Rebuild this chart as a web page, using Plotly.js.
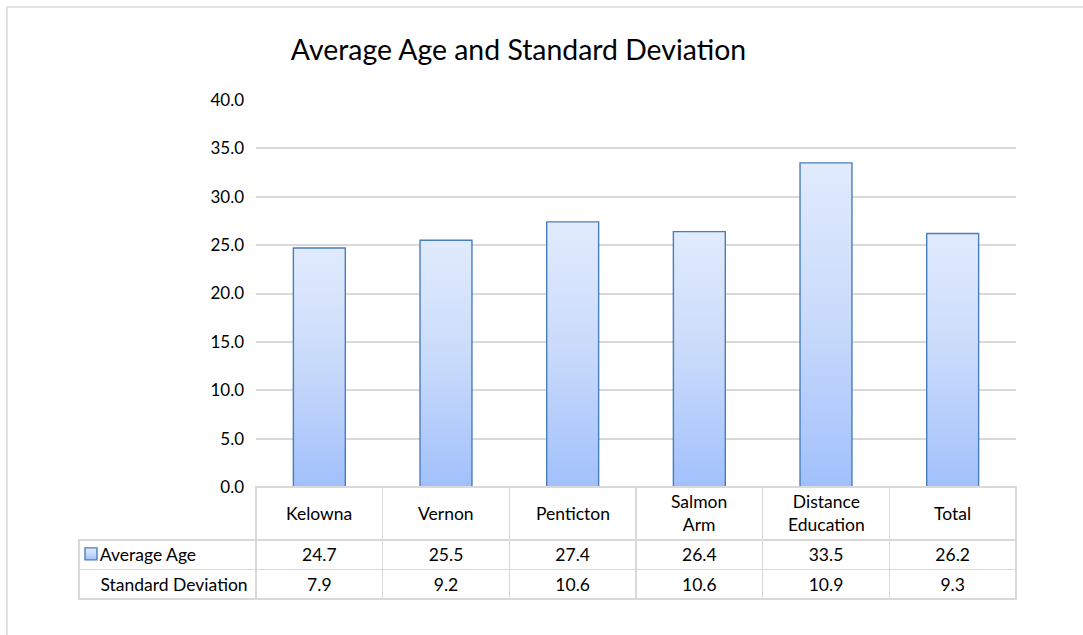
<!DOCTYPE html>
<html>
<head>
<meta charset="utf-8">
<script src="https://cdn.plot.ly/plotly-3.0.1.min.js"></script>
<style>html,body{margin:0;padding:0;background:#fff;}#chart{width:1083px;height:635px;}</style>
</head>
<body>
<div id="chart"></div>
<script>
const categories = ["Kelowna", "Vernon", "Penticton", "Salmon Arm", "Distance Education", "Total"];
const headerLabels = ["Kelowna", "Vernon", "Penticton", "Salmon<br>Arm", "Distance<br>Education", "Total"];
const averageAge = [24.7, 25.5, 27.4, 26.4, 33.5, 26.2];
const standardDeviation = [7.9, 9.2, 10.6, 10.6, 10.9, 9.3];
const rowLabels = ["Average Age", "Standard Deviation"];
const yTicks = [0, 5, 10, 15, 20, 25, 30, 35, 40];

const W = 1083, H = 635;
const px = v => v / W, py = v => 1 - v / H;
const FONT = "Lato, 'Open Sans', sans-serif";
const GRID = "#d9d9d9";
const TXT = 17.5;

const bar = {
  type: "bar",
  x: categories,
  y: averageAge,
  name: "",
  width: 0.41,
  marker: {color: "#c5d8fb", line: {color: "#4a7ebb", width: 1.4}},
  hoverinfo: "x+y",
  showlegend: true
};

const fmt = v => v.toFixed(1);
const noWrap = s => s.replace(/ /g, "\u00a0");
const table = {
  type: "table",
  domain: {x: [px(79), px(1016)], y: [py(600), py(487)]},
  columnwidth: [177].concat(categories.map(() => 126.67)),
  header: {
    values: [""].concat(headerLabels.map(() => "")),
    height: 53,
    line: {color: ["rgba(255,255,255,0)"].concat(categories.map(() => GRID)), width: 1.5},
    fill: {color: "rgba(255,255,255,0)"}
  },
  cells: {
    values: [rowLabels.map(l => "\u00a0\u00a0\u00a0" + noWrap(l))]
      .concat(categories.map((c, i) => [fmt(averageAge[i]), fmt(standardDeviation[i])])),
    height: 29.5,
    align: ["left"].concat(categories.map(() => "center")),
    line: {color: GRID, width: 1.5},
    fill: {color: "rgba(255,255,255,0)"},
    font: {family: FONT, size: TXT, color: "#000"}
  }
};

const annotations = categories.map((c, i) => ({
  xref: "x", yref: "paper",
  x: c, y: py(513),
  text: headerLabels[i],
  showarrow: false,
  xanchor: "center", yanchor: "middle", align: "center",
  font: {family: FONT, size: TXT, color: "#000"}
}));

const layout = {
  width: W, height: H,
  margin: {l: 0, r: 0, t: 0, b: 0},
  paper_bgcolor: "#fff",
  plot_bgcolor: "#fff",
  title: {
    text: "Average Age and Standard Deviation",
    font: {family: FONT, size: 28.4, color: "#000"},
    x: px(518.5), xanchor: "center",
    y: py(50), yanchor: "middle"
  },
  showlegend: true,
  legend: {
    x: px(71), y: py(554), xanchor: "left", yanchor: "middle",
    bgcolor: "rgba(0,0,0,0)", itemwidth: 30,
    font: {family: FONT, size: TXT}
  },
  xaxis: {
    domain: [px(256), px(1016)],
    showticklabels: false,
    showgrid: false, zeroline: false, showline: false,
    fixedrange: true
  },
  yaxis: {
    domain: [py(487), py(100)],
    range: [0, 40],
    tickvals: yTicks,
    ticktext: yTicks.map(fmt),
    tickfont: {family: FONT, size: 17, color: "#000"},
    ticks: "",
    ticklabelstandoff: 11,
    showgrid: true, gridcolor: GRID, gridwidth: 1.5,
    zeroline: false, showline: false,
    fixedrange: true
  },
  annotations: annotations,
  shapes: [{
    type: "rect", xref: "paper", yref: "paper",
    x0: px(7), x1: px(1090), y0: py(7), y1: py(650),
    line: {color: GRID, width: 1.5}, fillcolor: "rgba(0,0,0,0)", layer: "below"
  }]
};

Plotly.newPlot("chart", [bar, table], layout, {displayModeBar: false}).then(gd => {
  const svg = gd.querySelector("svg.main-svg");
  const ns = "http://www.w3.org/2000/svg";
  let defs = svg.querySelector("defs");
  if (!defs) { defs = document.createElementNS(ns, "defs"); svg.insertBefore(defs, svg.firstChild); }
  const grad = document.createElementNS(ns, "linearGradient");
  grad.setAttribute("id", "barGrad");
  grad.setAttribute("x1", "0"); grad.setAttribute("y1", "0");
  grad.setAttribute("x2", "0"); grad.setAttribute("y2", "1");
  [["0", "#e1ebfd"], ["0.5", "#c8dafb"], ["1", "#a1c0fb"]].forEach(([o, c]) => {
    const s = document.createElementNS(ns, "stop");
    s.setAttribute("offset", o); s.setAttribute("stop-color", c);
    grad.appendChild(s);
  });
  defs.appendChild(grad);
  gd.querySelectorAll(".barlayer .point path, .legend .legendpoints path").forEach(p => {
    p.style.fill = "url(#barGrad)";
  });
});
</script>
</body>
</html>
